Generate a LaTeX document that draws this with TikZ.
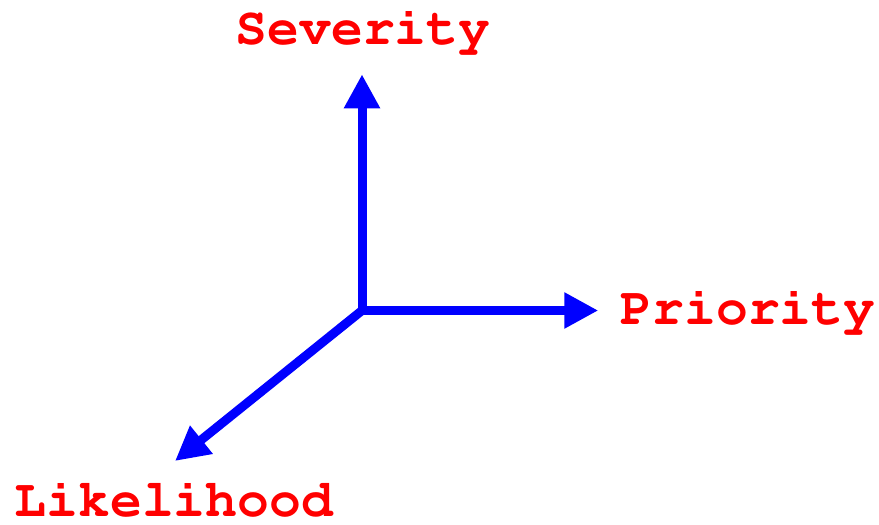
\documentclass[tikz,border=0pt]{standalone}
\usepackage[T1]{fontenc}
\usetikzlibrary{arrows.meta}
\begin{document}
\begin{tikzpicture}[x=1pt,y=-1pt,
  axis/.style={draw={rgb,255:red,0;green,0;blue,255}, line width=9pt, -{Triangle[length=34pt,width=34pt]}},
  lbl/.style={text={rgb,255:red,255;green,0;blue,0}, font=\fontencoding{T1}\fontfamily{pcr}\fontseries{b}\fontsize{53}{53}\selectfont, inner sep=0pt, anchor=base}]
\useasboundingbox (0,0) rectangle (879,525);
\coordinate (o) at (362,310.5);
\coordinate (sv) at (362,74.3);
\coordinate (pr) at (598.3,310.5);
\coordinate (lk) at (175,461);
\node[lbl] (s) at (363,44) {Severity};
\node[lbl] (p) at (748,324.3) {Priority};
\node[lbl] (l) at (174,516) {Likelihood};
\draw[axis] (o) -- (sv);
\draw[axis] (o) -- (pr);
\draw[axis] (o) -- (lk);
\end{tikzpicture}
\end{document}
